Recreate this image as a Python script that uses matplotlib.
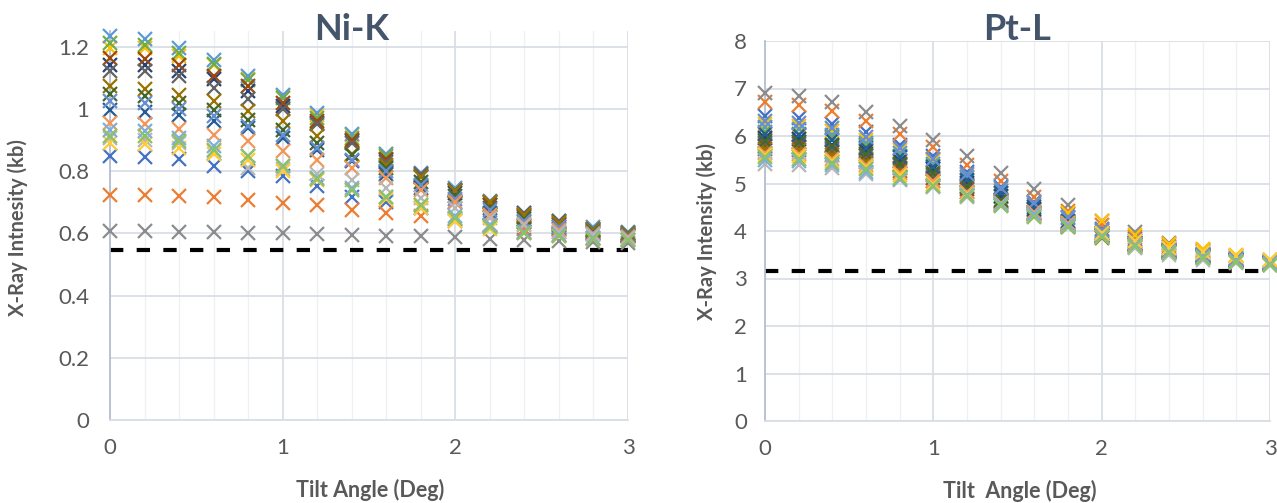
import matplotlib.pyplot as plt
from matplotlib.ticker import MultipleLocator, FuncFormatter

plt.rcParams['font.family'] = ['Lato', 'DejaVu Sans']

# tilt angles (deg)
angle = [0, 0.2, 0.4, 0.6, 0.8, 1.0, 1.2, 1.4, 1.6, 1.8, 2.0, 2.2, 2.4, 2.6, 2.8, 3.0]

# --- Ni-K series (kb) ---
ni_blue      = [0.847, 0.845, 0.838, 0.815, 0.799, 0.783, 0.751, 0.718, 0.702, 0.682, 0.645, 0.625, 0.605, 0.595, 0.585, 0.578]
ni_orange    = [0.724, 0.724, 0.720, 0.718, 0.708, 0.697, 0.692, 0.676, 0.665, 0.654, 0.640, 0.628, 0.615, 0.605, 0.597, 0.590]
ni_gray      = [0.606, 0.606, 0.605, 0.604, 0.600, 0.600, 0.597, 0.595, 0.592, 0.590, 0.588, 0.582, 0.578, 0.575, 0.572, 0.570]
ni_gold      = [1.196, 1.195, 1.170, 1.140, 1.095, 1.040, 0.980, 0.915, 0.855, 0.790, 0.740, 0.700, 0.662, 0.635, 0.615, 0.600]
ni_ltblue    = [1.233, 1.225, 1.195, 1.158, 1.105, 1.045, 0.985, 0.920, 0.855, 0.795, 0.745, 0.705, 0.665, 0.640, 0.620, 0.605]
ni_green     = [1.212, 1.205, 1.178, 1.145, 1.092, 1.035, 0.972, 0.905, 0.848, 0.788, 0.738, 0.698, 0.660, 0.635, 0.615, 0.600]
ni_dkblue    = [1.142, 1.140, 1.120, 1.095, 1.058, 1.010, 0.955, 0.895, 0.835, 0.780, 0.730, 0.690, 0.652, 0.628, 0.608, 0.595]
ni_dkorange  = [1.164, 1.160, 1.140, 1.105, 1.072, 1.020, 0.962, 0.900, 0.840, 0.785, 0.735, 0.692, 0.655, 0.630, 0.610, 0.595]
ni_dkgray    = [1.121, 1.120, 1.105, 1.067, 1.030, 1.000, 0.950, 0.890, 0.830, 0.790, 0.740, 0.700, 0.665, 0.640, 0.615, 0.600]
ni_dkgold    = [1.073, 1.065, 1.045, 1.024, 0.992, 0.960, 0.911, 0.855, 0.820, 0.780, 0.735, 0.700, 0.660, 0.632, 0.612, 0.598]
ni_steel     = [0.997, 0.990, 0.980, 0.960, 0.938, 0.906, 0.869, 0.831, 0.790, 0.745, 0.700, 0.665, 0.635, 0.615, 0.600, 0.590]
ni_dkgreen   = [1.046, 1.040, 1.020, 0.997, 0.965, 0.933, 0.890, 0.850, 0.810, 0.765, 0.720, 0.680, 0.645, 0.620, 0.605, 0.590]
ni_midblue   = [1.024, 1.020, 1.000, 0.976, 0.945, 0.915, 0.875, 0.835, 0.800, 0.755, 0.710, 0.675, 0.640, 0.620, 0.600, 0.590]
ni_ltorange  = [0.955, 0.952, 0.935, 0.917, 0.895, 0.863, 0.837, 0.810, 0.778, 0.740, 0.700, 0.660, 0.630, 0.610, 0.598, 0.588]
ni_ltgray    = [0.905, 0.900, 0.890, 0.865, 0.810, 0.805, 0.790, 0.772, 0.745, 0.714, 0.680, 0.650, 0.625, 0.605, 0.595, 0.585]
ni_ltgold    = [0.890, 0.888, 0.875, 0.855, 0.835, 0.800, 0.770, 0.740, 0.710, 0.682, 0.640, 0.615, 0.600, 0.590, 0.582, 0.578]
ni_skyblue   = [0.933, 0.930, 0.905, 0.879, 0.847, 0.815, 0.778, 0.745, 0.715, 0.690, 0.655, 0.625, 0.605, 0.595, 0.585, 0.580]
ni_ltgreen   = [0.911, 0.912, 0.895, 0.869, 0.847, 0.815, 0.775, 0.740, 0.718, 0.690, 0.650, 0.620, 0.600, 0.590, 0.582, 0.578]
ni_baseline = 0.547

# --- Pt-L series (kb) ---
pt_gray      = [6.90, 6.85, 6.72, 6.50, 6.22, 5.92, 5.57, 5.22, 4.88, 4.55, 4.22, 3.97, 3.74, 3.60, 3.48, 3.38]
pt_orange    = [6.72, 6.66, 6.52, 6.32, 6.05, 5.76, 5.40, 5.06, 4.72, 4.43, 4.13, 3.88, 3.70, 3.58, 3.47, 3.37]
pt_blue      = [6.42, 6.38, 6.25, 6.08, 5.82, 5.58, 5.25, 4.93, 4.62, 4.35, 4.05, 3.83, 3.66, 3.55, 3.44, 3.35]
pt_midblue   = [6.32, 6.28, 6.16, 5.98, 5.75, 5.52, 5.20, 4.90, 4.58, 4.30, 4.02, 3.80, 3.63, 3.52, 3.42, 3.34]
pt_gold      = [6.25, 6.22, 6.10, 5.92, 5.70, 5.48, 5.17, 4.86, 4.60, 4.38, 4.22, 3.92, 3.72, 3.62, 3.50, 3.40]
pt_ltblue    = [6.18, 6.15, 6.02, 5.86, 5.64, 5.42, 5.13, 4.84, 4.55, 4.28, 4.00, 3.78, 3.62, 3.51, 3.41, 3.33]
pt_steel     = [6.05, 6.03, 5.92, 5.75, 5.55, 5.35, 5.08, 4.80, 4.50, 4.22, 3.96, 3.74, 3.58, 3.48, 3.39, 3.32]
pt_green     = [6.08, 6.05, 5.95, 5.80, 5.58, 5.36, 5.05, 4.72, 4.44, 4.16, 3.92, 3.72, 3.57, 3.47, 3.38, 3.31]
pt_dkblue    = [5.95, 5.93, 5.82, 5.68, 5.48, 5.30, 5.02, 4.74, 4.46, 4.20, 3.95, 3.75, 3.60, 3.50, 3.40, 3.32]
pt_dkgreen   = [5.90, 5.88, 5.78, 5.62, 5.42, 5.22, 4.95, 4.66, 4.40, 4.14, 3.90, 3.70, 3.56, 3.46, 3.37, 3.30]
pt_dkgray    = [5.85, 5.83, 5.72, 5.58, 5.38, 5.18, 4.92, 4.64, 4.38, 4.12, 3.92, 3.72, 3.58, 3.49, 3.40, 3.33]
pt_dkorange  = [5.80, 5.76, 5.66, 5.50, 5.32, 5.12, 4.88, 4.62, 4.36, 4.10, 3.90, 3.70, 3.55, 3.45, 3.37, 3.30]
pt_dkgold    = [5.72, 5.70, 5.60, 5.45, 5.26, 5.06, 4.82, 4.55, 4.32, 4.08, 3.86, 3.66, 3.53, 3.43, 3.35, 3.29]
pt_ltorange  = [5.65, 5.62, 5.52, 5.38, 5.22, 5.05, 4.82, 4.60, 4.40, 4.16, 3.94, 3.72, 3.56, 3.46, 3.37, 3.30]
pt_ltgold    = [5.60, 5.58, 5.48, 5.35, 5.18, 5.00, 4.78, 4.56, 4.34, 4.12, 3.96, 3.78, 3.65, 3.56, 3.47, 3.38]
pt_ltgreen   = [5.55, 5.52, 5.44, 5.30, 5.12, 4.95, 4.74, 4.52, 4.30, 4.08, 3.88, 3.68, 3.54, 3.44, 3.35, 3.28]
pt_skyblue   = [5.50, 5.48, 5.38, 5.25, 5.10, 4.94, 4.76, 4.56, 4.36, 4.12, 3.90, 3.70, 3.55, 3.46, 3.37, 3.30]
pt_ltgray    = [5.42, 5.40, 5.32, 5.20, 5.08, 4.92, 4.72, 4.54, 4.34, 4.10, 3.88, 3.64, 3.50, 3.40, 3.33, 3.28]
pt_baseline = 3.15

# excel-like palette
C = {'blue': '#4472C4', 'orange': '#ED7D31', 'gray': '#8C8C8C', 'gold': '#FFC000',
     'ltblue': '#5B9BD5', 'green': '#70AD47', 'dkblue': '#264478', 'dkorange': '#9E480E',
     'dkgray': '#636363', 'dkgold': '#997300', 'steel': '#255E91', 'dkgreen': '#43682B',
     'midblue': '#698ED0', 'ltorange': '#F1975A', 'ltgray': '#B7B7B7', 'ltgold': '#FFCD33',
     'skyblue': '#7CAFDD', 'ltgreen': '#8CC168'}

ni_series = [(ni_blue, 'blue'), (ni_orange, 'orange'), (ni_gray, 'gray'), (ni_gold, 'gold'),
             (ni_ltblue, 'ltblue'), (ni_green, 'green'), (ni_dkblue, 'dkblue'), (ni_dkorange, 'dkorange'),
             (ni_dkgray, 'dkgray'), (ni_dkgold, 'dkgold'), (ni_steel, 'steel'), (ni_dkgreen, 'dkgreen'),
             (ni_midblue, 'midblue'), (ni_ltorange, 'ltorange'), (ni_ltgray, 'ltgray'), (ni_ltgold, 'ltgold'),
             (ni_skyblue, 'skyblue'), (ni_ltgreen, 'ltgreen')]
pt_series = [(pt_blue, 'blue'), (pt_orange, 'orange'), (pt_gray, 'gray'), (pt_gold, 'gold'),
             (pt_ltblue, 'ltblue'), (pt_green, 'green'), (pt_dkblue, 'dkblue'), (pt_dkorange, 'dkorange'),
             (pt_dkgray, 'dkgray'), (pt_dkgold, 'dkgold'), (pt_steel, 'steel'), (pt_dkgreen, 'dkgreen'),
             (pt_midblue, 'midblue'), (pt_ltorange, 'ltorange'), (pt_ltgray, 'ltgray'), (pt_ltgold, 'ltgold'),
             (pt_skyblue, 'skyblue'), (pt_ltgreen, 'ltgreen')]

TXT = '#595959'
GRID = '#D9DDE5'


def fmt(v, pos):
    return f"{v:g}"


def setup(ax, ymax, ystep, pad_y):
    ax.set_xlim(0, 3)
    ax.set_ylim(0, ymax)
    ax.xaxis.set_major_locator(MultipleLocator(1))
    ax.xaxis.set_minor_locator(MultipleLocator(0.2))
    ax.yaxis.set_major_locator(MultipleLocator(ystep))
    ax.yaxis.set_major_formatter(FuncFormatter(fmt))
    ax.grid(True, which='major', color=GRID, lw=1.3, zorder=0)
    ax.grid(True, which='minor', axis='x', color='#EEF0F4', lw=1.0, zorder=0)
    ax.set_axisbelow(True)
    for s in ['top', 'right']:
        ax.spines[s].set_visible(False)
    ax.spines['left'].set_color('#B4BFD2')
    ax.spines['left'].set_linewidth(1.3)
    ax.spines['bottom'].set_color(GRID)
    ax.spines['bottom'].set_linewidth(1.3)
    ax.tick_params(which='both', length=0, labelsize=16, labelcolor=TXT)
    ax.tick_params(axis='y', pad=pad_y)
    ax.tick_params(axis='x', pad=13)


def draw(ax, series, base):
    ax.plot([0, 3], [base, base], color='black', lw=3, ls=(0, (3.2, 3.2)), zorder=2)
    for vals, c in series:
        ax.plot(angle, vals, ls='none', marker='x', ms=9.5, mew=1.6, color=C[c],
                zorder=3, clip_on=False)


fig = plt.figure(figsize=(12.77, 5.03), dpi=100)

ax1 = fig.add_axes([110/1277, 1 - 420/503, 518/1277, 389/503])
setup(ax1, 1.25, 0.2, 15)
draw(ax1, ni_series, ni_baseline)

ax2 = fig.add_axes([765/1277, 1 - 421/503, 505/1277, 380/503])
setup(ax2, 8, 1, 13)
draw(ax2, pt_series, pt_baseline)

TITLE = '#44546A'
fig.text(352/1277, 1 - 29/503, 'Ni-K', ha='center', va='center', fontsize=26, fontweight='bold', color=TITLE)
fig.text(1017/1277, 1 - 29/503, 'Pt-L', ha='center', va='center', fontsize=26, fontweight='bold', color=TITLE)

fig.text(18/1277, 1 - 228/503, 'X-Ray Intnesity (kb)', rotation=90, ha='center', va='center',
         fontsize=14.5, fontweight='bold', color=TXT)
fig.text(707/1277, 1 - 232/503, 'X-Ray Intensity (kb)', rotation=90, ha='center', va='center',
         fontsize=14.5, fontweight='bold', color=TXT)
fig.text(370/1277, 1 - 490/503, 'Tilt Angle (Deg)', ha='center', va='center',
         fontsize=15.5, fontweight='bold', color=TXT)
fig.text(1020/1277, 1 - 491/503, 'Tilt  Angle (Deg)', ha='center', va='center',
         fontsize=15.5, fontweight='bold', color=TXT)

fig.savefig('out.png', dpi=100)
